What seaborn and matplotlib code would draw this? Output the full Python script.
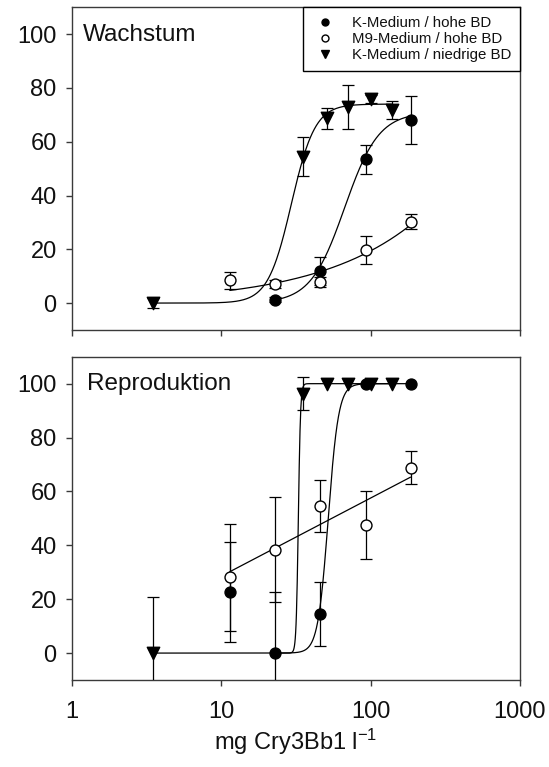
import numpy as np
import pandas as pd
import seaborn as sns
import matplotlib
matplotlib.use("Agg")
import matplotlib.pyplot as plt
from matplotlib.lines import Line2D

sns.set_theme(style="ticks")
plt.rcParams["font.family"] = ["Liberation Sans", "DejaVu Sans"]
plt.rcParams["mathtext.fontset"] = "custom"
plt.rcParams["mathtext.rm"] = "Liberation Sans"
plt.rcParams["mathtext.it"] = "Liberation Sans:italic"

series_labels = ["K-Medium / hohe BD", "M9-Medium / hohe BD", "K-Medium / niedrige BD"]
panel_titles = ["Wachstum", "Reproduktion"]
x_ticks = [1, 10, 100, 1000]
x_tick_labels = ["1", "10", "100", "1000"]
y_ticks = [0, 20, 40, 60, 80, 100]

# --- Wachstum (growth) ---
growth_k_high_dose = [22.8, 45.7, 92.5, 185]
growth_k_high_val = [1.3, 12.0, 53.4, 68.0]
growth_k_high_err = [1.0, 5.2, 5.4, 9.0]

growth_m9_dose = [11.4, 22.8, 45.7, 92.5, 185]
growth_m9_val = [8.5, 7.0, 7.8, 19.6, 30.2]
growth_m9_err = [3.1, 1.5, 1.8, 5.2, 2.8]

growth_k_low_dose = [3.5, 35, 51, 70.8, 100, 138]
growth_k_low_val = [0.0, 54.4, 68.7, 73.0, 75.8, 71.8]
growth_k_low_err = [2.0, 7.3, 4.0, 8.2, 1.5, 3.3]

# --- Reproduktion (reproduction) ---
repro_k_high_dose = [11.4, 22.8, 45.7, 92.5, 185]
repro_k_high_val = [22.6, 0.0, 14.5, 100.0, 100.0]
repro_k_high_err = [18.6, 22.5, 11.7, 0.0, 0.0]

repro_m9_dose = [11.4, 22.8, 45.7, 92.5, 185]
repro_m9_val = [28.1, 38.4, 54.6, 47.6, 68.8]
repro_m9_err = [19.8, 19.4, 9.5, 12.7, 6.2]

repro_k_low_dose = [3.5, 35, 51, 70.8, 100, 138]
repro_k_low_val = [0.0, 96.3, 100.0, 100.0, 100.0, 100.0]
repro_k_low_err = [21.0, 6.2, 0.0, 0.0, 0.0, 0.0]

# Regression parameters of the fitted curves
# Hill: (top, EC50, slope, x_from, x_to)
growth_k_high_fit = (71.0, 67.0, 3.8, 22.8, 185)
growth_k_low_fit = (74.0, 29.5, 5.5, 3.5, 138)
repro_k_high_fit = (100.0, 52.0, 12.5, 22.8, 185)
repro_k_low_fit = (100.0, 32.8, 60.0, 3.5, 138)
# power law a * x^p: (a, p, x_from, x_to)
growth_m9_fit = (0.96, 0.653, 11.4, 185)
# log-linear a + b*log10(x): (a, b, x_from, x_to)
repro_m9_fit = (-0.45, 29.0, 11.4, 185)


def hill_curve(params):
    top, ec50, n, x0, x1 = params
    x = np.logspace(np.log10(x0), np.log10(x1), 600)
    return x, top / (1.0 + (ec50 / x) ** n)


def power_curve(params):
    a, p, x0, x1 = params
    x = np.logspace(np.log10(x0), np.log10(x1), 300)
    return x, a * x ** p


def loglin_curve(params):
    a, b, x0, x1 = params
    x = np.logspace(np.log10(x0), np.log10(x1), 300)
    return x, a + b * np.log10(x)


SPINE = "#3a3a3a"
TEXT = "#111111"
MARKERS = [
    dict(marker="o", color="black", s=62),
    dict(marker="o", color="white", s=62),
    dict(marker="v", color="black", s=80),
]


def draw_panel(ax, series, curves, title, title_x):
    for (x, y) in curves:
        sns.lineplot(x=x, y=y, ax=ax, color="black", linewidth=0.9,
                     estimator=None, sort=False, zorder=2)
    for (dose, val, err), style in zip(series, MARKERS):
        d = np.asarray(dose, float)
        v = np.asarray(val, float)
        e = np.asarray(err, float)
        m = e > 0
        ax.errorbar(d[m], v[m], yerr=e[m], fmt="none", ecolor="black",
                    elinewidth=0.9, capsize=4, capthick=0.9, zorder=3)
    for (dose, val, err), style in zip(series, MARKERS):
        sns.scatterplot(x=dose, y=val, ax=ax, marker=style["marker"],
                        color=style["color"], edgecolor="black",
                        linewidth=1.0, s=style["s"], zorder=4, legend=False)
    ax.set_xscale("log")
    ax.set_xlim(1, 1000)
    ax.set_ylim(-10, 110)
    ax.set_xticks(x_ticks)
    ax.set_xticklabels(x_tick_labels)
    ax.xaxis.set_minor_locator(matplotlib.ticker.NullLocator())
    ax.set_yticks(y_ticks)
    ax.set_yticklabels([str(t) for t in y_ticks])
    for sp in ax.spines.values():
        sp.set_visible(True)
        sp.set_color(SPINE)
        sp.set_linewidth(1.0)
    ax.tick_params(direction="out", length=4, width=1.0, color=SPINE,
                   labelsize=17, labelcolor=TEXT)
    ax.tick_params(axis="y", pad=7)
    ax.tick_params(axis="x", pad=11)
    ax.set_xlabel("")
    ax.set_ylabel("")
    ax.text(title_x, 0.897, title, transform=ax.transAxes, fontsize=17.5,
            ha="left", va="baseline", color=TEXT)


fig = plt.figure(figsize=(5.49, 7.67), dpi=100)
ax1 = fig.add_axes([0.1311, 0.5698, 0.8160, 0.4207])
ax2 = fig.add_axes([0.1311, 0.1134, 0.8160, 0.4215])

draw_panel(
    ax1,
    [(growth_k_high_dose, growth_k_high_val, growth_k_high_err),
     (growth_m9_dose, growth_m9_val, growth_m9_err),
     (growth_k_low_dose, growth_k_low_val, growth_k_low_err)],
    [hill_curve(growth_k_high_fit), power_curve(growth_m9_fit),
     hill_curve(growth_k_low_fit)],
    panel_titles[0], 0.024,
)
ax1.tick_params(axis="x", labelbottom=False)

draw_panel(
    ax2,
    [(repro_k_high_dose, repro_k_high_val, repro_k_high_err),
     (repro_m9_dose, repro_m9_val, repro_m9_err),
     (repro_k_low_dose, repro_k_low_val, repro_k_low_err)],
    [hill_curve(repro_k_high_fit), loglin_curve(repro_m9_fit),
     hill_curve(repro_k_low_fit)],
    panel_titles[1], 0.034,
)
ax2.set_xlabel(r"mg Cry3Bb1 l$^{\mathregular{-1}}$", fontsize=17,
               labelpad=3, color=TEXT)

handles = [
    Line2D([], [], linestyle="none", marker="o", markersize=5,
           markerfacecolor="black", markeredgecolor="black"),
    Line2D([], [], linestyle="none", marker="o", markersize=5,
           markerfacecolor="white", markeredgecolor="black"),
    Line2D([], [], linestyle="none", marker="v", markersize=6,
           markerfacecolor="black", markeredgecolor="black"),
]
leg = ax1.legend(handles, series_labels, loc="upper right",
                 bbox_to_anchor=(1.0, 1.0), borderaxespad=0.0,
                 fontsize=10.8, frameon=True, fancybox=False, shadow=False,
                 borderpad=0.6, handlelength=1.8, handletextpad=0.85,
                 labelspacing=0.12)
leg.get_frame().set_edgecolor("black")
leg.get_frame().set_linewidth(1.0)
leg.get_frame().set_alpha(1.0)
for t in leg.get_texts():
    t.set_color(TEXT)

fig.savefig("out.png", dpi=100)
